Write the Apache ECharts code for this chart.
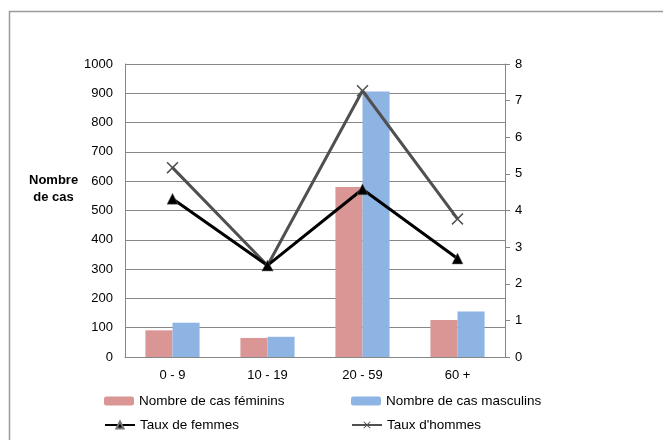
<!DOCTYPE html>
<html><head><meta charset="utf-8">
<script src="https://cdn.jsdelivr.net/npm/echarts@6/dist/echarts.min.js"></script>
<style>html,body{margin:0;padding:0;background:#fff}#c{width:663px;height:440px}</style>
</head><body><div id="c"></div>
<script>
const categories = ['0 - 9', '10 - 19', '20 - 59', '60 +'];
const casFeminins = [91, 65, 580, 126];
const casMasculins = [117, 69, 906, 155];
const tauxFemmes = [4.32, 2.5, 4.58, 2.69];
const tauxHommes = [5.17, 2.5, 7.27, 3.77];
const leftTicks = {min: 0, max: 1000, interval: 100};
const rightTicks = {min: 0, max: 8, interval: 1};

const FONT = 'Liberation Sans, Arial, sans-serif';
const xPath = 'path://M0,0.9 L0.9,0 L5,4.1 L9.1,0 L10,0.9 L5.9,5 L10,9.1 L9.1,10 L5,5.9 L0.9,10 L0,9.1 L4.1,5 Z';
const chart = echarts.init(document.getElementById('c'), null, {renderer: 'canvas'});
const legendText = {fontFamily: FONT, fontSize: 13.5, color: '#000'};
const legendBase = {orient: 'horizontal', itemWidth: 30, itemHeight: 9, itemGap: 3, textStyle: legendText, padding: 0, selectedMode: false};
chart.setOption({
  animation: false,
  grid: {left: 125, right: 158, top: 64, bottom: 83},
  graphic: [
    {type: 'rect', shape: {x: 9.5, y: 11.5, width: 700, height: 500}, style: {fill: 'none', stroke: '#9a9a9a', lineWidth: 1.5}, silent: true},
    {type: 'text', left: 29, top: 172, style: {text: 'Nombre\nde cas', font: 'bold 13px Liberation Sans, Arial, sans-serif', fill: '#000', align: 'center', lineHeight: 17, textAlign: 'center'}}
  ],
  legend: [
    Object.assign({}, legendBase, {left: 104, top: 394, data: ['Nombre de cas féminins']}),
    Object.assign({}, legendBase, {left: 351, top: 394, data: ['Nombre de cas masculins']}),
    Object.assign({}, legendBase, {left: 104, top: 418, data: ['Taux de femmes']}),
    Object.assign({}, legendBase, {left: 351, top: 418, data: ["Taux d'hommes"]})
  ],
  xAxis: {
    type: 'category', data: categories,
    axisLine: {lineStyle: {color: '#868686', width: 1}},
    axisTick: {show: false},
    axisLabel: {fontFamily: FONT, fontSize: 13, color: '#000', margin: 12}
  },
  yAxis: [
    {type: 'value', min: leftTicks.min, max: leftTicks.max, interval: leftTicks.interval,
     axisLine: {show: true, lineStyle: {color: '#868686'}}, axisTick: {show: false},
     splitLine: {lineStyle: {color: '#868686', width: 1}},
     axisLabel: {fontFamily: FONT, fontSize: 13, color: '#000', margin: 12, formatter: v => String(v)}},
    {type: 'value', min: rightTicks.min, max: rightTicks.max, interval: rightTicks.interval, position: 'right',
     axisLine: {show: true, lineStyle: {color: '#868686'}}, axisTick: {show: true, length: 5, lineStyle: {color: '#868686'}},
     splitLine: {show: false},
     axisLabel: {fontFamily: FONT, fontSize: 13, color: '#000', margin: 10}}
  ],
  series: [
    {name: 'Nombre de cas féminins', type: 'bar', data: casFeminins, barGap: '0%', barCategoryGap: '43%',
     itemStyle: {color: '#d99694'}},
    {name: 'Nombre de cas masculins', type: 'bar', data: casMasculins,
     itemStyle: {color: '#8eb4e3'}},
    {name: 'Taux de femmes', type: 'line', yAxisIndex: 1, data: tauxFemmes,
     symbol: 'triangle', symbolSize: 11, lineStyle: {color: '#000', width: 3},
     itemStyle: {color: '#000', borderColor: '#777', borderWidth: 0.5}, z: 4},
    {name: "Taux d'hommes", type: 'line', yAxisIndex: 1, data: tauxHommes,
     symbol: xPath, symbolSize: 12, lineStyle: {color: '#505050', width: 3},
     itemStyle: {color: '#505050'}, z: 3}
  ]
});
</script></body></html>
